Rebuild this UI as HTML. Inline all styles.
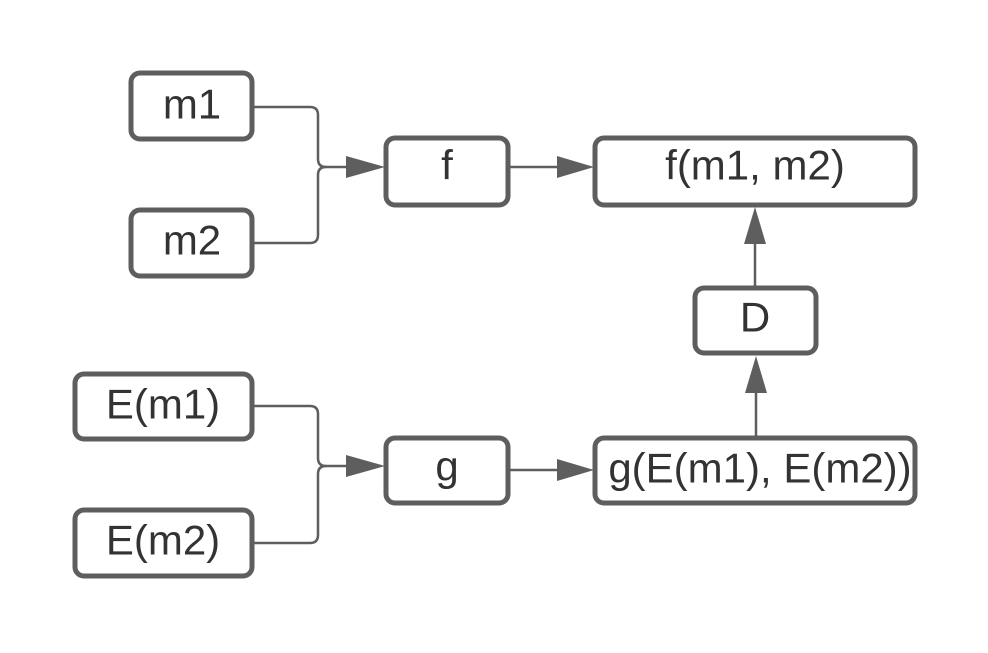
<!DOCTYPE html>
<html><head><meta charset="utf-8"><style>
html,body{margin:0;padding:0;background:#fff;}
svg{display:block}
text{font-family:"Liberation Sans",Arial,sans-serif;font-size:42px;fill:#333;text-anchor:middle;dominant-baseline:central}
.b{fill:#fff;stroke:#5e5e5e;stroke-width:5}
.l{fill:none;stroke:#5e5e5e;stroke-width:2.5}
.a{fill:#5e5e5e}
</style></head><body>
<svg width="988" height="653" viewBox="0 0 988 653">
<g><path class="l" d="M252 107 H310 Q318 107 318 115 V159 Q318 167 326 167 H350"/></g>
<g><path class="l" d="M252 243 H310 Q318 243 318 235 V175 Q318 167 326 167"/></g>
<polygon class="a" points="346,156 385,167 346,178"/>
<g><path class="l" d="M510 167 H560"/></g>
<polygon class="a" points="557,156 594,167 557,178"/>

<g><path class="l" d="M252 406 H310 Q318 406 318 414 V458 Q318 466 326 466 H350"/></g>
<g><path class="l" d="M252 543 H310 Q318 543 318 535 V474 Q318 466 326 466"/></g>
<polygon class="a" points="346,455 385,466 346,477"/>
<g><path class="l" d="M510 470 H560"/></g>
<polygon class="a" points="557,459 594,470 557,481"/>

<g><path class="l" d="M756 437 V390"/></g>
<polygon class="a" points="745,393 756,356 767,393"/>
<g><path class="l" d="M755 287 V240"/></g>
<polygon class="a" points="744,244 755,207 766,244"/>

<g><rect class="b" x="131" y="73" width="121" height="66" rx="9"/><text x="192" y="104">m1</text></g>
<g><rect class="b" x="131" y="210" width="121" height="66" rx="9"/><text x="192" y="240">m2</text></g>
<g><rect class="b" x="386" y="138" width="122" height="67" rx="9"/><text x="447" y="165">f</text></g>
<g><rect class="b" x="595" y="138" width="320" height="67" rx="9"/><text x="755" y="165">f(m1, m2)</text></g>
<g><rect class="b" x="695" y="288" width="121" height="65" rx="9"/><text x="755" y="317">D</text></g>
<g><rect class="b" x="75" y="374" width="177" height="65" rx="9"/><text x="163" y="404">E(m1)</text></g>
<g><rect class="b" x="75" y="510" width="177" height="66" rx="9"/><text x="163" y="540">E(m2)</text></g>
<g><rect class="b" x="386" y="438" width="122" height="65" rx="9"/><text x="447" y="466">g</text></g>
<g><rect class="b" x="595" y="438" width="320" height="65" rx="9"/><text x="760" y="468">g(E(m1), E(m2))</text></g>
</svg>
</body></html>
